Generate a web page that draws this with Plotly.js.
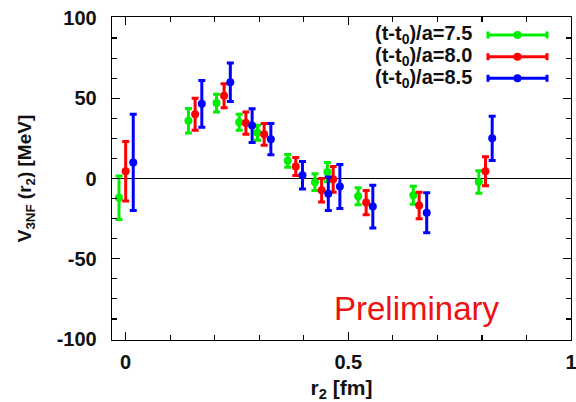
<!DOCTYPE html>
<html>
<head>
<meta charset="utf-8">
<script src="https://cdn.plot.ly/plotly-3.0.1.min.js"></script>
<style>html,body{margin:0;padding:0;background:#fff;} #chart{width:576px;height:402px;}</style>
</head>
<body>
<div id="chart"></div>
<script>
// ---- data ----
const seriesNames = ["(t-t<sub>0</sub>)/a=7.5", "(t-t<sub>0</sub>)/a=8.0", "(t-t<sub>0</sub>)/a=8.5"];

const r_75 = [-0.015, 0.141, 0.204, 0.255, 0.296, 0.364, 0.425, 0.453, 0.522, 0.646, 0.793];
const v_75 = [-12, 36, 47, 35, 28.5, 11, -2.3, 4, -11, -10.5, -2.2];
const e_75 = [13.5, 7.6, 5.5, 5, 4.7, 4, 5.2, 6, 5.3, 5.6, 7];

const r_80 = [0.000, 0.156, 0.221, 0.270, 0.311, 0.382, 0.440, 0.466, 0.540, 0.659, 0.808];
const v_80 = [4.5, 40, 51.5, 34.5, 27.5, 7.5, -7.3, -0.5, -15, -16.8, 4.5];
const e_80 = [18.5, 10, 7.5, 7, 6.8, 5.6, 7.3, 8, 7.6, 8.2, 9];

const r_85 = [0.017, 0.171, 0.235, 0.284, 0.326, 0.397, 0.455, 0.481, 0.555, 0.676, 0.823];
const v_85 = [10, 46.5, 60, 33, 24.5, 2, -9.5, -5, -17.5, -21.3, 25];
const e_85 = [30, 14.6, 12, 10.5, 9.7, 8.6, 10.5, 13.7, 13.3, 12.5, 13.8];

const xTickVals = [0, 0.5, 1];
const xTickText = ["0", "0.5", "1"];
const yTickVals = [-100, -50, 0, 50, 100];
const yTickText = ["-100", "-50", "0", "50", "100"];

// ---- styling ----
const colors = ["#00ee00", "#ff0000", "#0000ff"];
const FONT = "Liberation Sans, Arial, Helvetica, sans-serif";

const rs = [r_75, r_80, r_85], vs = [v_75, v_80, v_85], es = [e_75, e_80, e_85];
const traces = rs.map((r, i) => ({
  type: "scatter", mode: "markers", x: r, y: vs[i], name: seriesNames[i],
  showlegend: false,
  marker: {color: colors[i], size: 8, symbol: "circle"},
  error_y: {type: "data", array: es[i], visible: true, color: colors[i], thickness: 3, width: 3.5}
}));

// plot area in pixels
const L = 112, R = 571, T = 17, B = 340;
const px = x => (x - L) / (R - L);
const py = y => (B - y) / (B - T);

const shapes = [], annotations = [];
const rowY = [35, 56.7, 78.3];
seriesNames.forEach((name, i) => {
  const y = py(rowY[i]);
  shapes.push({type: "line", xref: "paper", yref: "paper", x0: px(488), x1: px(547), y0: y, y1: y,
               line: {color: colors[i], width: 3}});
  [488, 547].forEach(xx => shapes.push({type: "line", xref: "paper", yref: "paper",
               x0: px(xx), x1: px(xx), y0: py(rowY[i] - 3.5), y1: py(rowY[i] + 3.5),
               line: {color: colors[i], width: 3}}));
  shapes.push({type: "circle", xref: "paper", yref: "paper", xsizemode: "pixel", ysizemode: "pixel",
               xanchor: px(517.5), yanchor: y, x0: -4, x1: 4, y0: -4, y1: 4,
               fillcolor: colors[i], line: {color: colors[i], width: 0}});
  annotations.push({xref: "paper", yref: "paper", x: px(474), y: y, xanchor: "right", yanchor: "middle",
               showarrow: false, text: name, font: {family: FONT, size: 20, weight: "bold", color: "#111"}});
});
annotations.push({xref: "paper", yref: "paper", x: px(417), y: py(308), xanchor: "center", yanchor: "middle",
               showarrow: false, text: "Preliminary", font: {family: FONT, size: 33, color: "#ee1111"}});

const layout = {
  width: 576, height: 402,
  margin: {l: L, r: 576 - R, t: T, b: 402 - B, pad: 0},
  paper_bgcolor: "#fff", plot_bgcolor: "#fff",
  showlegend: false,
  font: {family: FONT, color: "#111"},
  xaxis: {
    range: [-0.0307, 1.0], showgrid: false, zeroline: false,
    showline: true, linecolor: "#000", linewidth: 1.3, mirror: "allticks",
    ticks: "inside", ticklen: 8, tickwidth: 1.2, tickcolor: "#000",
    tickvals: xTickVals, ticktext: xTickText, ticklabeloverflow: "allow",
    tickfont: {family: FONT, size: 20, weight: "bold", color: "#111"},
    ticklabelstandoff: 4,
    minor: {dtick: 0.1, ticks: "inside", ticklen: 5, tickwidth: 1.2, tickcolor: "#000", showgrid: false},
    title: {text: "r<sub>2</sub> [fm]", font: {family: FONT, size: 21, weight: "bold", color: "#111"}, standoff: 13}
  },
  yaxis: {
    range: [-100.6, 100.6], showgrid: false,
    zeroline: true, zerolinecolor: "#000", zerolinewidth: 1.2,
    showline: true, linecolor: "#000", linewidth: 1.3, mirror: "allticks",
    ticks: "inside", ticklen: 8, tickwidth: 1.2, tickcolor: "#000",
    tickvals: yTickVals, ticktext: yTickText, ticklabeloverflow: "allow",
    tickfont: {family: FONT, size: 20, weight: "bold", color: "#111"},
    ticklabelstandoff: 10,
    minor: {dtick: 12.5, ticks: "inside", ticklen: 5, tickwidth: 1.2, tickcolor: "#000", showgrid: false},
    title: {text: "V<sub>3NF</sub> (r<sub>2</sub>) [MeV]", font: {family: FONT, size: 19, weight: "bold", color: "#111"}, standoff: 20}
  },
  shapes: shapes,
  annotations: annotations
};

Plotly.newPlot("chart", traces, layout, {displayModeBar: false, staticPlot: true});
</script>
</body>
</html>
